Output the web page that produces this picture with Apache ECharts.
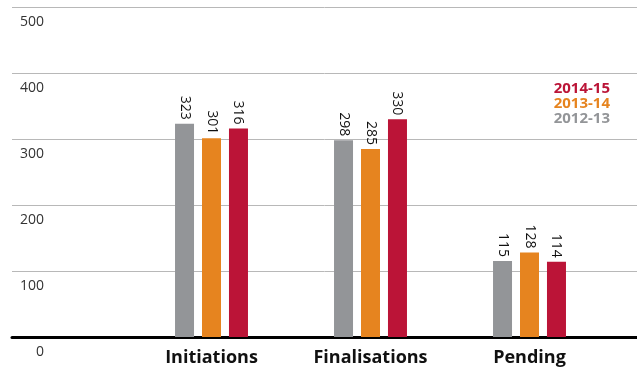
<!DOCTYPE html>
<html>
<head>
<meta charset="utf-8">
<script src="https://cdn.jsdelivr.net/npm/echarts@6/dist/echarts.min.js"></script>
<style>
  html, body { margin: 0; padding: 0; background: #fff; }
  #chart { width: 637px; height: 370px; }
</style>
</head>
<body>
<div id="chart"></div>
<script>
const categories = ["Initiations", "Finalisations", "Pending"];
const years = ["2012-13", "2013-14", "2014-15"];
const values2012 = [323, 298, 115];
const values2013 = [301, 285, 128];
const values2014 = [316, 330, 114];
const yTicks = [0, 100, 200, 300, 400, 500];

const colors = { "2012-13": "#939598", "2013-14": "#e6841f", "2014-15": "#bb1437" };
const seriesValues = [values2012, values2013, values2014];

const chart = echarts.init(document.getElementById("chart"));

const font = "'Open Sans', 'Noto Sans', sans-serif";

const option = {
  animation: false,
  grid: [
    { left: 12, right: 0, top: 7, bottom: 33 },
    { left: 132, width: 477, top: 7, bottom: 33 }
  ],
  legend: {
    orient: "vertical",
    right: 22,
    top: 76,
    icon: "none",
    itemWidth: 0,
    itemHeight: 10,
    itemGap: 0,
    selectedMode: false,
    data: years.slice().reverse().map(y => ({
      name: y,
      textStyle: { color: colors[y] }
    })),
    textStyle: { fontFamily: font, fontWeight: "bold", fontSize: 15, padding: 0 }
  },
  xAxis: [
    {
      gridIndex: 0,
      type: "category",
      data: [""],
      axisTick: { show: false },
      axisLabel: { show: false },
      axisLine: { lineStyle: { color: "#000", width: 3 } }
    },
    {
      gridIndex: 1,
      type: "category",
      data: categories,
      axisTick: { show: false },
      axisLine: { show: false },
      axisLabel: {
        margin: 12,
        fontFamily: font,
        fontWeight: "bold",
        fontSize: 18,
        color: "#111"
      }
    }
  ],
  yAxis: [
    {
      gridIndex: 0,
      type: "value",
      min: 0,
      max: 500,
      interval: 100,
      axisLine: { show: false },
      axisTick: { show: false },
      splitLine: { lineStyle: { color: "#b8b8b8", width: 1 } },
      axisLabel: {
        inside: true,
        margin: 32,
        align: "right",
        verticalAlign: "top",
        padding: [8, 0, 0, 0],
        fontFamily: font,
        fontSize: 14,
        color: "#333",
        formatter: v => (yTicks.includes(v) ? String(v) : "")
      }
    },
    {
      gridIndex: 1,
      type: "value",
      min: 0,
      max: 500,
      interval: 100,
      show: false
    }
  ],
  series: years.map((y, i) => ({
    name: y,
    type: "bar",
    xAxisIndex: 1,
    yAxisIndex: 1,
    data: seriesValues[i],
    barWidth: 19,
    barGap: "42%",
    itemStyle: { color: colors[y] },
    label: {
      show: true,
      position: "top",
      distance: 4,
      rotate: -90,
      align: "right",
      verticalAlign: "middle",
      fontFamily: font,
      fontSize: 14,
      color: "#111"
    }
  }))
};

chart.setOption(option);
</script>
</body>
</html>
